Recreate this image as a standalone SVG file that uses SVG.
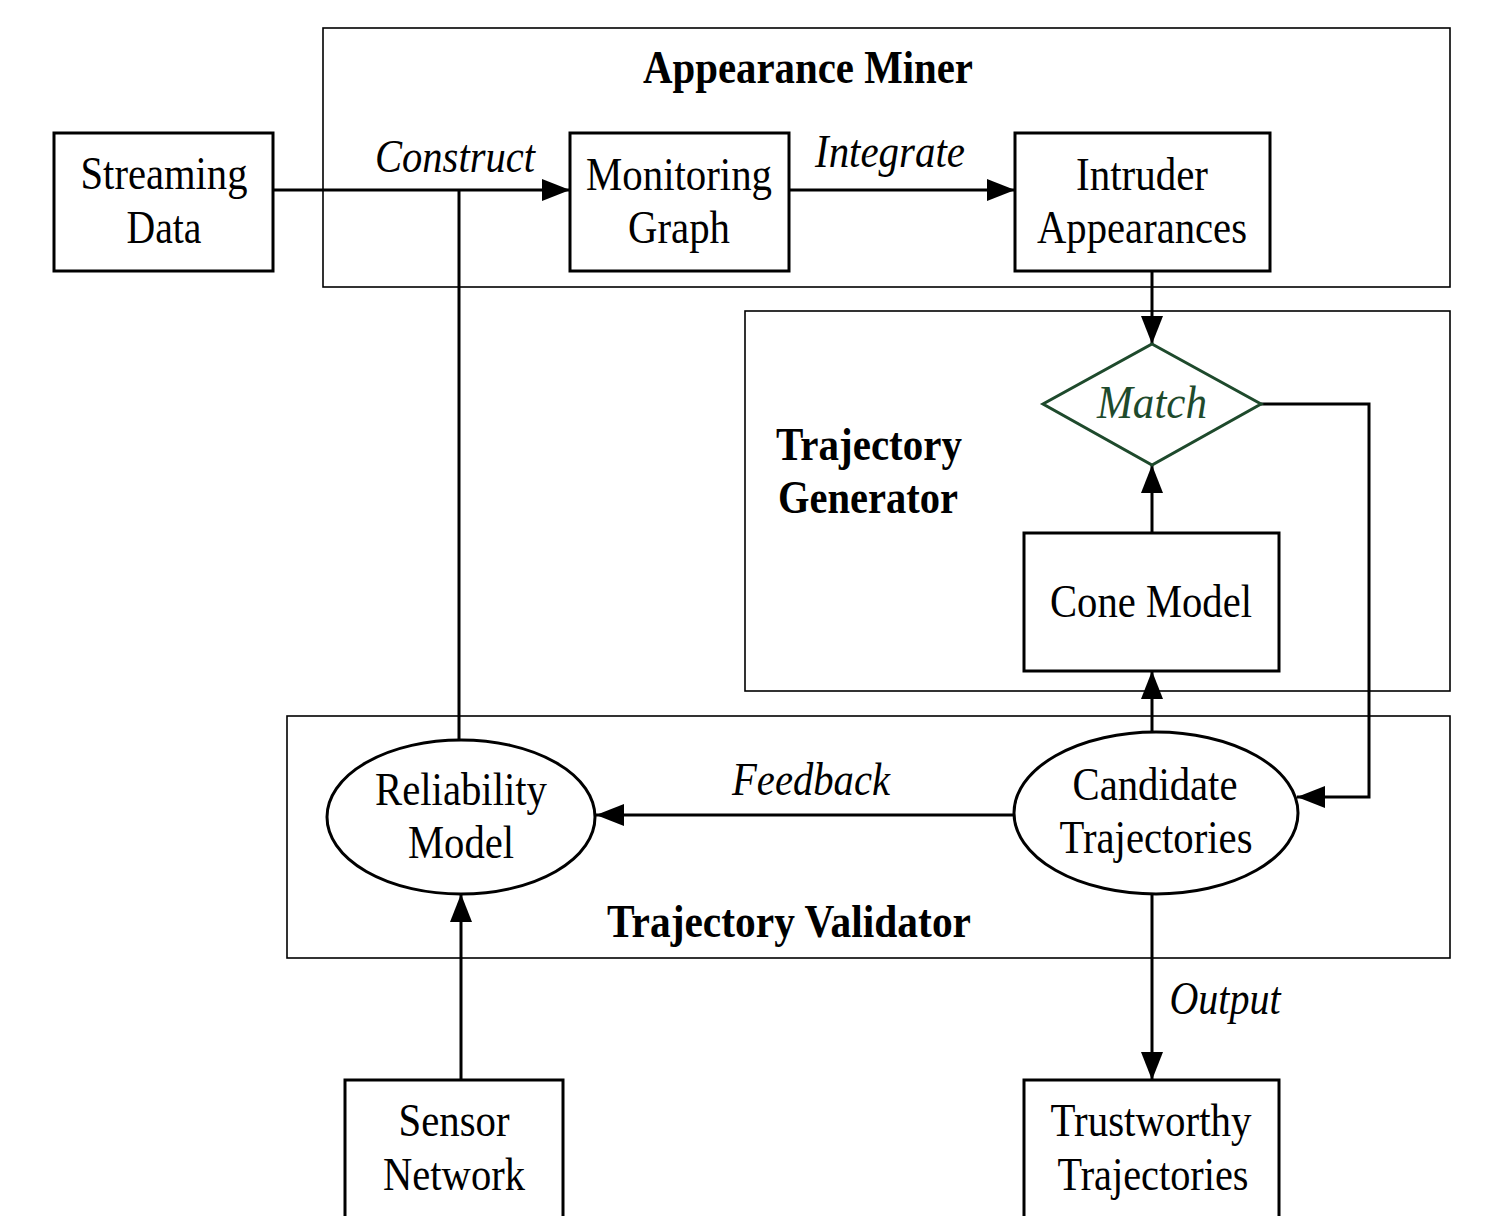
<svg xmlns="http://www.w3.org/2000/svg" width="1492" height="1216" viewBox="0 0 1492 1216">
<style>
.c{fill:none;stroke:#000;stroke-width:1.6}
.n{fill:#fff;stroke:#000;stroke-width:3}
.e{fill:none;stroke:#000;stroke-width:3}
.t{font-family:"Liberation Serif","Times New Roman",serif;font-size:46px;fill:#000;text-anchor:middle}
.i{font-style:italic}
.b{font-weight:bold}
.g{fill:#1e4a2c}
</style>
<defs>
<marker id="a" markerUnits="userSpaceOnUse" markerWidth="30" markerHeight="22" refX="28" refY="11" orient="auto">
<path d="M0,0 L28,11 L0,22 Z" fill="#000"/>
</marker>
</defs>

<g id="appearance-miner">
<rect class="c" x="323" y="28" width="1127" height="259"/>
<text class="t b" x="808" y="83" textLength="330" lengthAdjust="spacingAndGlyphs">Appearance Miner</text>
</g>
<g id="trajectory-generator">
<rect class="c" x="745" y="311" width="705" height="380"/>
<text class="t b" x="869" y="460" textLength="186" lengthAdjust="spacingAndGlyphs">Trajectory</text>
<text class="t b" x="868" y="513" textLength="180" lengthAdjust="spacingAndGlyphs">Generator</text>
</g>
<g id="trajectory-validator">
<rect class="c" x="287" y="716" width="1163" height="242"/>
<text class="t b" x="789" y="937" textLength="364" lengthAdjust="spacingAndGlyphs">Trajectory Validator</text>
</g>

<g id="connectors">
<path class="e" d="M273,190 L570,190" marker-end="url(#a)"/>
<path class="e" d="M459,740 L459,190"/>
<path class="e" d="M789,190 L1015,190" marker-end="url(#a)"/>
<path class="e" d="M1152,271 L1152,344" marker-end="url(#a)"/>
<path class="e" d="M1152,533 L1152,465" marker-end="url(#a)"/>
<path class="e" d="M1261,404 L1369,404 L1369,797 L1297,797" marker-end="url(#a)"/>
<path class="e" d="M1152,732 L1152,671" marker-end="url(#a)"/>
<path class="e" d="M1014,815 L596,815" marker-end="url(#a)"/>
<path class="e" d="M461,1080 L461,894" marker-end="url(#a)"/>
<path class="e" d="M1152,895 L1152,1080" marker-end="url(#a)"/>
<text class="t i" x="455" y="172" textLength="160" lengthAdjust="spacingAndGlyphs">Construct</text>
<text class="t i" x="890" y="167" textLength="150" lengthAdjust="spacingAndGlyphs">Integrate</text>
<text class="t i" x="811" y="795" textLength="158" lengthAdjust="spacingAndGlyphs">Feedback</text>
<text class="t i" x="1225" y="1014" textLength="111" lengthAdjust="spacingAndGlyphs">Output</text>
</g>

<g id="streaming-data">
<rect class="n" x="54" y="133" width="219" height="138"/>
<text class="t" x="164" y="189" textLength="167" lengthAdjust="spacingAndGlyphs">Streaming</text>
<text class="t" x="164" y="243" textLength="75" lengthAdjust="spacingAndGlyphs">Data</text>
</g>
<g id="monitoring-graph">
<rect class="n" x="570" y="133" width="219" height="138"/>
<text class="t" x="679" y="190" textLength="186" lengthAdjust="spacingAndGlyphs">Monitoring</text>
<text class="t" x="679" y="243" textLength="102" lengthAdjust="spacingAndGlyphs">Graph</text>
</g>
<g id="intruder-appearances">
<rect class="n" x="1015" y="133" width="255" height="138"/>
<text class="t" x="1142" y="190" textLength="132" lengthAdjust="spacingAndGlyphs">Intruder</text>
<text class="t" x="1142" y="243" textLength="210" lengthAdjust="spacingAndGlyphs">Appearances</text>
</g>
<g id="match">
<path d="M1152,344 L1261,404 L1152,465 L1043,404 Z" fill="#fff" stroke="#1e4a2c" stroke-width="3"/>
<text class="t i g" x="1152" y="418" textLength="110" lengthAdjust="spacingAndGlyphs">Match</text>
</g>
<g id="cone-model">
<rect class="n" x="1024" y="533" width="255" height="138"/>
<text class="t" x="1151" y="617" textLength="202" lengthAdjust="spacingAndGlyphs">Cone Model</text>
</g>
<g id="reliability-model">
<ellipse class="n" cx="461" cy="817" rx="134" ry="77"/>
<text class="t" x="461" y="805" textLength="172" lengthAdjust="spacingAndGlyphs">Reliability</text>
<text class="t" x="461" y="858" textLength="106" lengthAdjust="spacingAndGlyphs">Model</text>
</g>
<g id="candidate-trajectories">
<ellipse class="n" cx="1156" cy="813" rx="142" ry="81"/>
<text class="t" x="1155" y="800" textLength="165" lengthAdjust="spacingAndGlyphs">Candidate</text>
<text class="t" x="1156" y="853" textLength="193" lengthAdjust="spacingAndGlyphs">Trajectories</text>
</g>
<g id="sensor-network">
<rect class="n" x="345" y="1080" width="218" height="150"/>
<text class="t" x="454" y="1136" textLength="111" lengthAdjust="spacingAndGlyphs">Sensor</text>
<text class="t" x="454" y="1190" textLength="142" lengthAdjust="spacingAndGlyphs">Network</text>
</g>
<g id="trustworthy-trajectories">
<rect class="n" x="1024" y="1080" width="255" height="150"/>
<text class="t" x="1151" y="1136" textLength="201" lengthAdjust="spacingAndGlyphs">Trustworthy</text>
<text class="t" x="1153" y="1190" textLength="191" lengthAdjust="spacingAndGlyphs">Trajectories</text>
</g>
</svg>
